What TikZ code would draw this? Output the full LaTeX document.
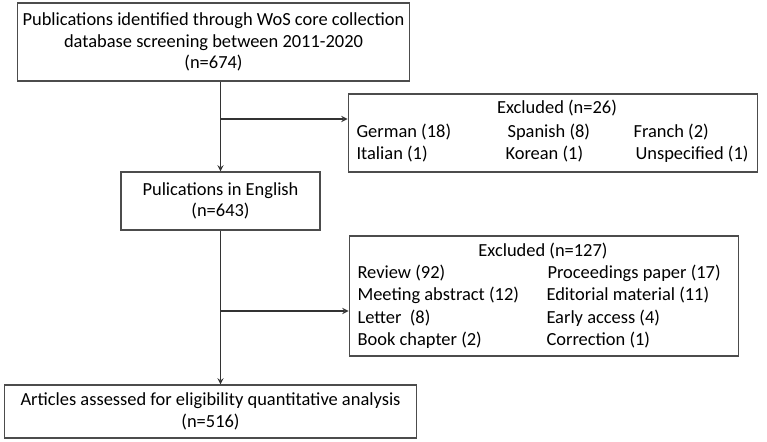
\documentclass[tikz,border=0pt]{standalone}
\usepackage{fontspec}
\setmainfont{Carlito}
\usepackage{xcolor}
\usetikzlibrary{positioning}

\begin{document}
\begin{tikzpicture}[x=0.02cm,y=-0.02cm,->,>=stealth,line width=0.6pt,font=\fontsize{10.5}{12.2}\selectfont,main box/.style={draw=black!70,align=center,inner sep=0pt},list item/.style={anchor=base west,inner sep=0pt}]
                        \useasboundingbox (0,0) rectangle (767,442);

                        \node[main box,minimum width=7.86cm,minimum height=1.56cm] (ident) at (213.5,42) {Publications identified through WoS core collection\\database screening between 2011-2020\\(n=674)};
                        \node[main box,minimum width=3.98cm,minimum height=1.16cm] (english) at (220.5,201) {Pulications in English\\(n=643)};
                        \node[main box,minimum width=8.26cm,minimum height=1.06cm] (final) at (210.5,411.5) {Articles assessed for eligibility quantitative analysis\\(n=516)};
                        \node[main box,minimum width=8.2cm,minimum height=1.56cm] (lang) at (553,133) {};
                        \node[main box,minimum width=7.8cm,minimum height=2.4cm] (type) at (544,296) {};

                        % excluded by language
                        \node[anchor=base,inner sep=0pt] (langhead) at (557,114) {Excluded (n=26)};
                        \node[list item] (german) at (356,138) {German (18)};
                        \node[list item] (spanish) at (507,138) {Spanish (8)};
                        \node[list item] (franch) at (633,138) {Franch (2)};
                        \node[list item] (italian) at (356,160) {Italian (1)};
                        \node[list item] (korean) at (505,160) {Korean (1)};
                        \node[list item] (unspec) at (635,160) {Unspecified (1)};

                        % excluded by document type
                        \node[anchor=base,inner sep=0pt] (typehead) at (543,256) {Excluded (n=127)};
                        \node[list item] (review) at (357,278) {Review (92)};
                        \node[list item] (proc) at (547,278) {Proceedings paper (17)};
                        \node[list item] (meeting) at (357,300) {Meeting abstract (12)};
                        \node[list item] (editorial) at (546,300) {Editorial material (11)};
                        \node[list item] (letter) at (357,323) {Letter~~(8)};
                        \node[list item] (early) at (546,323) {Early access (4)};
                        \node[list item] (book) at (357,345) {Book chapter (2)};
                        \node[list item] (correction) at (546,345) {Correction (1)};

                        \coordinate (j1) at (220.5,119);
                        \coordinate (j2) at (220.5,311);

                        \path[color=black!80]
                            (ident.south -| english.north) edge (english.north)
                            (j1) edge (j1 -| lang.west)
                            (english.south) edge (english.south |- final.north)
                            (j2) edge (j2 -| type.west)
                        ;

                    \end{tikzpicture}
\end{document}
